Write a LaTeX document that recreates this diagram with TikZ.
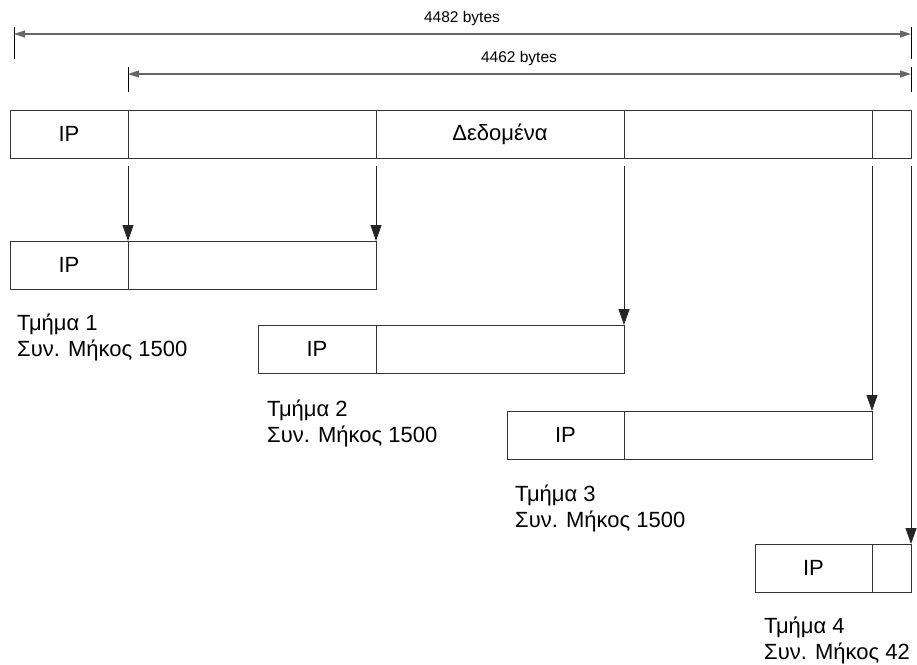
\documentclass[tikz,border=0pt]{standalone}
\usepackage{fontspec}
\setmainfont{Liberation Sans}
\usetikzlibrary{arrows.meta,positioning}

\begin{document}
\begin{tikzpicture}[x=1pt,y=-1pt, every node/.style={font=\fontsize{22}{26}\selectfont},
  cell/.style={draw=black!80,line width=0.9pt,minimum height=48pt,inner sep=0pt,outer sep=0pt,anchor=north west},
  arr/.style={draw=black!85,line width=0.9pt,-{Triangle[length=16pt,width=11pt]}},
  dim/.style={draw=black!60,line width=1.2pt,{Triangle[length=11pt,width=7pt]}-{Triangle[length=11pt,width=7pt]}},
  dimtick/.style={draw=black,line width=0.9pt},
  lbl/.style={align=left,anchor=north west,inner sep=0pt}]
  \useasboundingbox (0,0) rectangle (917,664);
  % original datagram
  \node[cell,minimum width=118pt] (ip0) at (10,110) {IP};
  \node[cell,minimum width=248pt,right=0pt of ip0] (d1) {};
  \node[cell,minimum width=248pt,right=0pt of d1] (d2) {Δεδομένα};
  \node[cell,minimum width=248pt,right=0pt of d2] (d3) {};
  \node[cell,minimum width=39pt,right=0pt of d3] (d4) {};
  % fragments
  \node[cell,minimum width=118pt] (ip1) at (10,241) {IP};
  \node[cell,minimum width=248pt,right=0pt of ip1] (s1) {};
  \node[cell,minimum width=118pt] (ip2) at (258,325) {IP};
  \node[cell,minimum width=248pt,right=0pt of ip2] (s2) {};
  \node[cell,minimum width=117pt] (ip3) at (507,411) {IP};
  \node[cell,minimum width=248pt,right=0pt of ip3] (s3) {};
  \node[cell,minimum width=117pt] (ip4) at (755,544) {IP};
  \node[cell,minimum width=39pt,right=0pt of ip4] (s4) {};
  \draw[arr] ([yshift=-8pt]ip0.south east) -- (ip1.north east);
  \draw[arr] ([yshift=-8pt]d1.south east) -- (s1.north east);
  \draw[arr] ([yshift=-8pt]d2.south east) -- (s2.north east);
  \draw[arr] ([yshift=-8pt]d3.south east) -- (s3.north east);
  \draw[arr] ([yshift=-8pt]d4.south east) -- (s4.north east);
  % lengths
  \coordinate (wl) at (14,34);
  \coordinate (wr) at (911,34);
  \coordinate (pl) at (128,74);
  \coordinate (pr) at (911,74);
  \draw[dimtick] ([yshift=7pt]wl) -- ([yshift=-25pt]wl);
  \draw[dimtick] ([yshift=7pt]wr) -- ([yshift=-25pt]wr);
  \draw[dimtick] ([yshift=7pt]pl) -- ([yshift=-18pt]pl);
  \draw[dimtick] ([yshift=7pt]pr) -- ([yshift=-18pt]pr);
  \draw[dim] (wl) -- (wr);
  \draw[dim] (pl) -- (pr);
  \node[font=\fontsize{15.5}{18}\selectfont] (all) at (462,18) {4482 bytes};
  \node[font=\fontsize{15.5}{18}\selectfont] (data) at (519,58) {4462 bytes};
  % fragment labels
  \node[lbl] (n1) at (17,314) {Τμήμα 1\\Συν. Μήκος 1500};
  \node[lbl] (n2) at (267,400) {Τμήμα 2\\Συν. Μήκος 1500};
  \node[lbl] (n3) at (515,485) {Τμήμα 3\\Συν. Μήκος 1500};
  \node[lbl] (n4) at (764,617) {Τμήμα 4\\Συν. Μήκος 42};
\end{tikzpicture}
\end{document}
